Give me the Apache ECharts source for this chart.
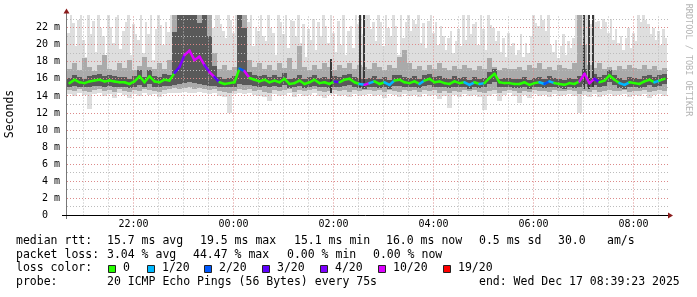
<!DOCTYPE html>
<html><head><meta charset="utf-8">
<script src="https://cdn.jsdelivr.net/npm/echarts@6/dist/echarts.min.js"></script>
<style>html,body{margin:0;padding:0;background:#fff}#c{width:697px;height:297px}</style>
</head><body><div id="c"></div><script>
// ---------- DATA ----------
// time axis in hours relative to 00:00 (Dec 17)
const START_HOUR = -3.33;
const COL_HOURS = 0.1;    // 6-minute columns (120)
const FINE_HOURS = 0.05;  // 3-minute columns (240) for the max ping
const Y_MAX = 23.5;

const xTickHours = [-2, 0, 2, 4, 6, 8];
const xTickLabels = ['22:00', '00:00', '02:00', '04:00', '06:00', '08:00'];
const xMinorHours = [-3, -2.5, -1.5, -1, -0.5, 0.5, 1, 1.5, 2.5, 3, 3.5, 4.5, 5, 5.5, 6.5, 7, 7.5, 8.5];
const yTickValues = [0, 2, 4, 6, 8, 10, 12, 14, 16, 18, 20, 22];
const yTickLabels = ['0  ', '2 m', '4 m', '6 m', '8 m', '10 m', '12 m', '14 m', '16 m', '18 m', '20 m', '22 m'];
const yMinorValues = [1, 3, 5, 7, 9, 11, 13, 15, 17, 19, 21, 23];

// highest ping (ms), 240 columns
const maxPing = [
21.4,23.8,22.5,19.8,22.9,23.8,20.5,18.6,23.8,21.2,22.8,19.2,23.8,21.9,21.0,18.4,23.8,22.1,20.2,23.2,
23.8,19.5,21.6,22.7,23.8,18.8,22.4,21.3,20.6,23.8,19.0,22.6,21.2,23.8,18.2,21.8,23.8,22.3,20.0,22.6,
21.5,23.8,23.8,23.8,23.8,23.8,23.8,23.8,23.8,23.8,23.8,23.8,23.8,23.8,23.8,23.8,23.8,23.8,22.0,23.8,
23.8,22.4,21.6,20.8,23.8,22.9,21.4,23.8,23.8,23.8,23.8,23.8,22.6,23.8,19.8,22.1,21.6,23.8,21.0,20.4,
23.8,22.0,21.4,18.8,23.8,22.6,21.2,23.8,19.6,22.9,22.8,21.0,23.8,20.2,22.4,18.6,21.8,20.6,23.0,19.4,
22.6,21.0,23.8,22.2,20.2,23.8,21.4,19.2,22.8,20.0,23.8,18.8,21.6,22.2,19.6,23.8,22.4,23.8,21.2,23.8,
23.8,21.8,22.6,20.4,23.8,22.6,19.8,23.8,21.9,21.0,23.8,22.2,18.8,23.8,20.8,22.7,23.8,21.6,22.9,22.4,
23.8,20.2,22.5,19.6,22.8,23.8,21.4,22.6,20.0,22.2,21.0,19.4,20.8,21.6,19.0,20.4,21.8,19.8,23.8,20.6,
23.8,21.2,22.4,22.6,20.0,23.8,21.8,19.4,23.8,22.3,22.0,20.4,21.6,19.2,20.8,18.6,21.4,19.8,20.2,18.8,
19.4,21.2,18.6,20.2,19.0,21.0,23.8,22.5,22.2,23.8,22.9,21.6,23.8,20.0,19.2,20.6,18.4,19.8,21.2,18.8,
20.4,19.6,20.8,23.8,22.9,23.8,23.8,23.8,23.8,22.4,23.8,22.6,22.8,21.8,23.0,22.6,21.4,23.0,20.6,21.8,
20.2,21.0,19.4,20.8,22.0,19.6,21.4,20.4,23.8,22.7,23.8,22.9,22.4,21.2,22.0,20.6,21.6,20.0,21.8,20.8];

// lowest ping (ms), 120 columns
const minPing = [
14.2,14.0,14.3,14.1,12.5,14.2,14.3,14.0,14.2,13.8,14.3,14.1,13.7,14.2,14.0,14.3,14.1,14.2,13.9,14.2,
14.3,14.4,14.3,14.5,14.4,14.3,14.5,14.4,14.2,14.3,14.0,13.9,12.0,14.2,14.3,14.2,14.3,14.1,14.0,13.9,
13.4,14.2,14.0,14.1,14.3,13.9,14.2,14.0,14.1,14.3,14.0,13.8,14.1,14.2,14.0,14.1,13.9,14.2,14.0,14.1,
14.2,14.0,14.1,13.8,14.2,14.1,13.9,14.2,14.0,14.1,13.9,14.2,14.0,14.1,13.6,14.0,12.6,14.1,13.9,14.2,
14.0,14.1,13.9,12.4,14.0,14.2,13.4,14.1,14.3,14.0,13.2,14.1,13.8,14.2,14.0,14.1,13.9,14.2,14.0,14.1,
14.2,14.0,12.0,14.1,13.9,14.2,13.9,14.1,14.2,14.0,14.1,14.2,13.9,14.1,14.0,14.2,13.8,14.1,14.2,14.0];

// outer smoke band (ms), 120 columns
const outerLow = [
14.7,14.6,14.8,14.6,14.5,14.7,14.8,14.6,14.7,14.5,14.8,14.6,14.5,14.7,14.6,14.8,14.7,14.6,14.5,14.7,
14.8,14.9,14.8,14.9,15.0,14.8,14.9,14.8,14.7,14.8,14.6,14.5,14.4,14.6,14.8,14.7,14.8,14.6,14.7,14.5,
14.4,14.7,14.6,14.7,14.8,14.5,14.7,14.6,14.7,14.8,14.6,14.5,14.6,14.7,14.6,14.7,14.5,14.7,14.6,14.7,
14.7,14.6,14.7,14.5,14.7,14.6,14.5,14.7,14.6,14.7,14.5,14.7,14.6,14.7,14.4,14.6,14.3,14.6,14.5,14.7,
14.6,14.7,14.5,14.3,14.6,14.7,14.4,14.6,14.7,14.6,14.4,14.6,14.5,14.7,14.6,14.6,14.5,14.7,14.6,14.6,
14.7,14.6,14.2,14.6,14.5,14.7,14.5,14.6,14.7,14.6,14.6,14.7,14.5,14.6,14.6,14.7,14.5,14.6,14.7,14.6];
const outerHigh = [
17.2,17.8,17.0,18.4,17.4,16.9,17.6,18.8,17.2,17.0,17.9,17.3,18.2,17.0,17.5,18.6,17.4,17.1,17.8,17.2,
18.2,23.8,23.8,23.8,23.8,23.8,23.8,23.8,23.8,19.0,17.2,17.6,17.0,17.4,23.8,23.8,18.2,17.4,17.8,17.2,
17.6,17.0,17.8,17.3,18.4,17.1,19.8,17.4,17.0,17.6,17.2,17.8,17.4,17.0,17.6,17.3,17.8,17.2,17.6,17.4,
17.2,17.8,17.4,17.0,17.6,17.3,18.6,19.4,17.8,17.2,17.5,17.0,17.6,17.2,17.8,17.3,17.0,17.5,17.2,17.6,
17.3,17.0,17.5,17.2,18.4,17.4,17.0,17.3,17.1,17.2,17.4,17.0,17.6,17.3,17.8,17.2,17.4,17.0,17.6,17.3,
17.2,17.8,23.8,20.0,17.6,17.3,17.8,17.2,17.4,17.0,17.5,17.2,17.6,17.3,17.1,17.6,17.2,17.5,17.0,17.3];

// inner (dense) smoke band (ms), 120 columns
const innerLow = [
15.1,15.2,15.0,15.1,15.0,15.2,15.2,15.1,15.2,15.1,15.0,15.1,14.9,15.1,15.3,15.1,15.4,15.1,15.0,15.2,
15.2,15.3,15.4,15.5,15.6,15.5,15.4,15.3,15.2,15.2,15.1,15.0,15.0,15.1,15.4,15.3,15.3,15.2,15.1,15.2,
15.0,15.2,15.0,15.3,14.9,15.0,15.2,14.9,15.1,15.2,15.0,15.1,14.9,15.1,15.0,15.2,15.3,15.0,14.9,14.8,
15.0,15.1,14.9,15.0,14.8,15.2,15.2,15.0,15.0,15.1,14.9,15.2,15.3,15.0,15.1,15.0,14.9,15.1,15.0,15.0,
14.8,15.0,14.9,15.0,15.4,15.6,15.0,15.0,15.0,14.9,14.9,15.0,14.8,15.0,15.0,14.9,15.1,15.0,14.9,14.8,
15.0,14.9,15.1,15.4,15.0,15.3,15.0,15.2,15.6,15.3,14.9,14.8,15.0,15.0,14.9,15.1,15.3,15.0,15.2,15.4];
const innerHigh = [
16.1,16.5,16.2,16.0,16.3,16.4,16.6,16.3,16.4,16.3,16.2,16.2,16.0,16.3,17.0,16.2,17.0,16.3,16.2,16.6,
16.5,21.5,23.8,23.8,23.8,23.8,22.5,23.8,21.0,17.5,16.2,16.0,16.1,16.3,23.8,22.0,16.8,16.5,16.3,16.5,
16.2,16.4,16.2,16.7,16.0,16.1,16.4,16.0,16.2,16.5,16.1,16.2,16.0,16.3,16.2,16.5,16.6,16.2,16.1,16.0,
16.1,16.3,16.0,16.2,15.9,16.4,16.5,16.2,16.1,16.3,16.0,16.4,16.6,16.2,16.3,16.1,16.0,16.3,16.1,16.2,
15.9,16.2,16.0,16.1,16.8,17.2,16.0,16.1,16.1,16.0,16.0,16.2,15.9,16.1,16.2,16.0,16.3,16.1,16.0,15.9,
16.1,16.0,16.3,17.2,16.1,16.6,16.2,16.4,17.0,16.5,16.1,15.9,16.2,16.1,16.0,16.3,16.5,16.2,16.4,16.6];

// median rtt (ms), 120 columns
const medianRtt = [
15.5,15.9,15.6,15.5,15.7,15.8,15.9,15.7,15.8,15.7,15.6,15.6,15.4,15.7,16.3,15.6,16.3,15.7,15.6,15.9,
15.8,16.7,17.4,18.8,19.3,18.2,18.6,17.6,16.8,16.2,15.6,15.4,15.5,15.6,17.2,16.9,16.1,15.9,15.7,15.9,
15.6,15.8,15.6,16.0,15.4,15.5,15.8,15.4,15.6,15.9,15.5,15.6,15.4,15.7,15.6,15.9,16.0,15.6,15.4,15.3,
15.5,15.7,15.4,15.6,15.3,15.8,15.9,15.6,15.5,15.7,15.4,15.8,16.0,15.6,15.7,15.5,15.4,15.7,15.5,15.6,
15.3,15.6,15.4,15.5,16.1,16.6,15.6,15.5,15.5,15.4,15.4,15.6,15.3,15.5,15.6,15.4,15.7,15.5,15.4,15.3,
15.5,15.4,15.7,16.6,15.5,16.0,15.6,15.8,16.4,15.9,15.5,15.3,15.6,15.5,15.4,15.7,15.9,15.6,15.8,16.0];

// lost pings out of 20, 120 columns
const lostPings = [
0,0,0,0,0,0,0,0,0,0,0,0,0,0,0,0,0,0,0,0,
0,3,4,10,10,10,10,4,10,3,0,0,0,0,2,10,0,0,0,0,
0,0,0,0,0,0,0,0,0,0,0,0,0,3,0,0,0,0,1,10,
1,0,0,1,1,0,0,0,0,0,1,0,0,0,0,0,0,0,0,1,
1,0,1,0,0,0,0,0,0,0,0,0,0,0,1,2,1,0,0,0,
0,0,10,10,10,3,0,0,0,0,1,1,0,0,0,0,0,1,0,0];

// isolated tall ping bursts: [hour, low ms, high ms]
const burstLines = [[1.93, 14.4, 18.3], [2.51, 15.0, 23.8], [2.59, 15.0, 23.8], [6.99, 14.8, 23.8], [7.09, 14.8, 23.8], [7.17, 15.0, 23.8]];

const medianStats = ['median rtt:', '15.7 ms avg', '19.5 ms max', '15.1 ms min', '16.0 ms now', '0.5 ms sd', '30.0', 'am/s'];
const lossStats = ['packet loss:', '3.04 % avg', '44.47 % max', '0.00 % min', '0.00 % now'];
const lossLegendTitle = 'loss color:';
const lossLevels = [0, 1, 2, 3, 4, 10, 19];
const lossLabels = ['0', '1/20', '2/20', '3/20', '4/20', '10/20', '19/20'];
const lossColors = ['#26ff00', '#00b8ff', '#0059ff', '#5e00ff', '#7e00ff', '#dd00ff', '#ff0000'];
const probeInfo = ['probe:', '20 ICMP Echo Pings (56 Bytes) every 75s', 'end: Wed Dec 17 08:39:23 2025'];
const yAxisTitle = 'Seconds';
const watermark = 'RRDTOOL / TOBI OETIKER';

// ---------- RENDER ----------
const MONO = '"DejaVu Sans Mono", monospace';
function lossColor(l) { let c = lossColors[0]; for (let k = 0; k < lossLevels.length; k++) if (l >= lossLevels[k]) c = lossColors[k]; return c; }

function bandRender(color) {
  return function (params, api) {
    const hi = Math.min(api.value(3), Y_MAX);
    const p0 = api.coord([api.value(0), hi]);
    const p1 = api.coord([api.value(1), api.value(2)]);
    const x0 = Math.round(p0[0]), x1 = Math.round(p1[0]);
    const y0 = Math.round(p0[1]), y1 = Math.round(p1[1]);
    return { type: 'rect', shape: { x: x0, y: y0, width: x1 - x0, height: y1 - y0 }, style: { fill: color } };
  };
}
const band1 = maxPing.map((v, j) => [START_HOUR + j * FINE_HOURS, START_HOUR + (j + 1) * FINE_HOURS, minPing[j >> 1], v]);
const band2 = outerHigh.map((v, i) => [START_HOUR + i * COL_HOURS, START_HOUR + (i + 1) * COL_HOURS, outerLow[i], v]);
const band3 = innerHigh.map((v, i) => [START_HOUR + i * COL_HOURS, START_HOUR + (i + 1) * COL_HOURS, innerLow[i], v]);
const medSeg = [];
for (let i = 0; i < medianRtt.length - 1; i++) {
  medSeg.push([START_HOUR + (i + 0.5) * COL_HOURS, medianRtt[i], START_HOUR + (i + 1.5) * COL_HOURS, medianRtt[i + 1], lostPings[i]]);
}

function vGrid(color) {
  return function (params, api) {
    const cs = params.coordSys;
    const x = Math.round(api.coord([api.value(0), 0])[0] - 0.5) + 0.5;
    return { type: 'line', shape: { x1: x, y1: cs.y + cs.height, x2: x, y2: cs.y }, style: { stroke: color, lineWidth: 1, lineDash: [1, 2] } };
  };
}
function hGrid(color) {
  return function (params, api) {
    const cs = params.coordSys;
    const y = Math.round(api.coord([START_HOUR, api.value(1)])[1] - 0.5) + 0.5;
    return { type: 'line', shape: { x1: cs.x, y1: y, x2: cs.x + cs.width + 1, y2: y }, style: { stroke: color, lineWidth: 1, lineDash: [1, 2] } };
  };
}

const MAJOR = '#dc8a8a', MINOR = '#bcbcbc';
const series = [
  { type: 'custom', z: 1, silent: true, renderItem: bandRender('#dedede'), data: band1, encode: { x: [0, 1], y: [2, 3] } },
  { type: 'custom', z: 2, silent: true, renderItem: bandRender('#aaaaaa'), data: band2, encode: { x: [0, 1], y: [2, 3] } },
  { type: 'custom', z: 3, silent: true, renderItem: bandRender('#595959'), data: band3, encode: { x: [0, 1], y: [2, 3] } },
  { type: 'custom', z: 4, silent: true, data: burstLines, encode: { x: 0, y: [1, 2] },
    renderItem: (params, api) => {
      const p0 = api.coord([api.value(0), Math.min(api.value(2), Y_MAX)]);
      const p1 = api.coord([api.value(0), api.value(1)]);
      const x = Math.round(p0[0]);
      return { type: 'rect', shape: { x: x, y: Math.round(p0[1]), width: 2, height: Math.round(p1[1]) - Math.round(p0[1]) }, style: { fill: '#3a3a3a' } };
    } },
  { type: 'custom', z: 5, silent: true, renderItem: vGrid(MINOR), data: xMinorHours.map(h => [h, 0]), encode: { x: 0, y: 1 } },
  { type: 'custom', z: 5, silent: true, renderItem: vGrid(MAJOR), data: xTickHours.map(h => [h, 0]), encode: { x: 0, y: 1 } },
  { type: 'custom', z: 5, silent: true, renderItem: hGrid(MINOR), data: yMinorValues.map(v => [START_HOUR, v]), encode: { x: 0, y: 1 } },
  { type: 'custom', z: 5, silent: true, renderItem: hGrid(MAJOR), data: yTickValues.filter(v => v > 0).map(v => [START_HOUR, v]), encode: { x: 0, y: 1 } },
  { type: 'custom', z: 6, silent: true, data: medSeg, encode: { x: [0, 2], y: [1, 3] },
    renderItem: (params, api) => {
      const p0 = api.coord([api.value(0), api.value(1)]);
      const p1 = api.coord([api.value(2), api.value(3)]);
      return { type: 'line', shape: { x1: p0[0], y1: p0[1], x2: p1[0], y2: p1[1] }, style: { stroke: lossColor(api.value(4)), lineWidth: 2.5, lineCap: 'round' } };
    } }
];

// text / legend graphics
const g = [];
function txt(s, x, y, extra) {
  g.push(Object.assign({ type: 'text', x: x, y: y, silent: true, style: { text: s, font: '11.5px ' + MONO, fill: '#000', align: 'left', verticalAlign: 'middle', textAlign: 'left', textVerticalAlign: 'middle' } }, extra || {}));
}
const row1X = [16, 107, 200, 294, 386, 479, 558, 607];
medianStats.forEach((s, k) => txt(s, row1X[k], 241));
const row2X = [16, 107, 193, 287, 373];
lossStats.forEach((s, k) => txt(s, row2X[k], 255));
txt(lossLegendTitle, 16, 268.5);
const boxX = [108, 147, 204, 262, 320, 378, 443];
lossLabels.forEach((s, k) => {
  g.push({ type: 'rect', silent: true, shape: { x: boxX[k] + 0.5, y: 265.5, width: 7, height: 7 }, style: { fill: lossColors[k], stroke: '#222', lineWidth: 1 } });
  txt(s, boxX[k] + 15, 268.5);
});
const row4X = [16, 107, 479];
probeInfo.forEach((s, k) => txt(s, row4X[k], 282.5));
g.push({ type: 'text', x: 10, y: 114, rotation: Math.PI / 2, silent: true, style: { text: yAxisTitle, font: '11.5px ' + MONO, fill: '#000', align: 'center', verticalAlign: 'middle', textAlign: 'center', textVerticalAlign: 'middle' } });
g.push({ type: 'text', x: 688, y: 60, rotation: -Math.PI / 2, silent: true, style: { text: watermark, font: '8.5px ' + MONO, fill: '#b4b4b4', align: 'center', verticalAlign: 'middle', textAlign: 'center', textVerticalAlign: 'middle' } });
// axis lines and arrows
g.push({ type: 'line', silent: true, z: 10, shape: { x1: 66.5, y1: 13, x2: 66.5, y2: 219 }, style: { stroke: '#777', lineWidth: 1 } });
g.push({ type: 'line', silent: true, z: 10, shape: { x1: 62, y1: 215.5, x2: 669, y2: 215.5 }, style: { stroke: '#000', lineWidth: 1 } });
g.push({ type: 'polygon', silent: true, z: 10, shape: { points: [[63.5, 13.5], [66.5, 8.5], [69.5, 13.5]] }, style: { fill: '#8b1c1c' } });
g.push({ type: 'polygon', silent: true, z: 10, shape: { points: [[668, 212.5], [673, 215.5], [668, 218.5]] }, style: { fill: '#8b1c1c' } });

const chart = echarts.init(document.getElementById('c'), null, { renderer: 'canvas', devicePixelRatio: 1 });
chart.setOption({
  animation: false,
  backgroundColor: '#fff',
  grid: { left: 67, top: 14.8, width: 600, height: 200.7 },
  xAxis: {
    type: 'value', min: START_HOUR, max: START_HOUR + 12,
    axisLine: { show: false }, axisTick: { show: false }, splitLine: { show: false },
    axisLabel: { customValues: xTickHours, formatter: v => xTickLabels[xTickHours.indexOf(v)] || '', color: '#000', fontFamily: MONO, fontSize: 10, margin: 4 }
  },
  yAxis: {
    type: 'value', min: 0, max: Y_MAX,
    axisLine: { show: false }, axisTick: { show: false }, splitLine: { show: false },
    axisLabel: { customValues: yTickValues, formatter: v => yTickLabels[yTickValues.indexOf(v)] || '', color: '#000', fontFamily: MONO, fontSize: 10, margin: 7 }
  },
  series: series,
  graphic: g
});
</script></body></html>
